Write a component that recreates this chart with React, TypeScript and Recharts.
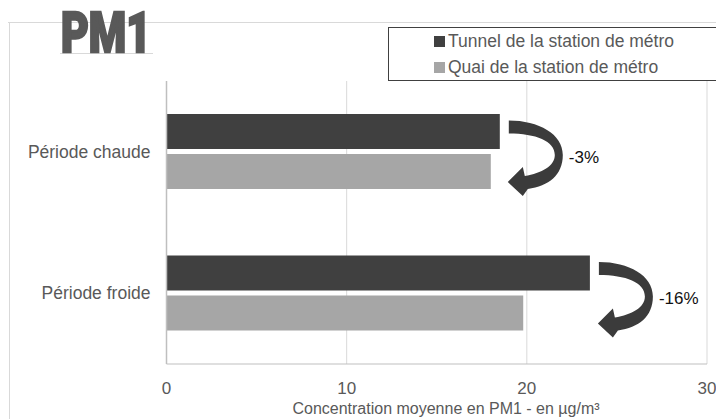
import React from 'react';
import { BarChart, Bar, XAxis, YAxis, CartesianGrid, Legend, LabelList, Customized } from 'recharts';

const categories = ['Période chaude', 'Période froide'];
const tunnelValues = [18.5, 23.5];
const quaiValues = [18.0, 19.8];
const changeLabels = ['-3%', '-16%'];
const seriesNames = ['Tunnel de la station de métro', 'Quai de la station de métro'];
const seriesColors = ['#404040', '#a6a6a6'];
const xTicks = [0, 10, 20, 30];
const chartTitle = 'PM1';
const xAxisTitle = 'Concentration moyenne en PM1 - en µg/m³';

const data = categories.map((c, i) => ({ name: c, tunnel: tunnelValues[i], quai: quaiValues[i] }));

const FONT = '"Liberation Sans", Arial, Helvetica, sans-serif';
const W = 716;
const H = 419;

const ArrowLabel = (props: any) => {
  const vb = props.viewBox || props;
  const x = Number(vb.x ?? props.x);
  const y = Number(vb.y ?? props.y);
  const width = Number(vb.width ?? props.width);
  const index = props.index ?? 0;
  const bx = x + width;
  const by = y;
  return (
    <g>
      <path
        transform={`translate(${bx},${by})`}
        d="M 9 6.5 C 39 6.5, 63 20, 63 41 C 63 61, 49 72, 28 75 L 23 82 L 8 68 L 23 53 L 25 62 C 42 59, 55 52, 55 41 C 55 27, 36 19.5, 9 19.5 Z"
        fill="#3b3b3b"
      />
      <text x={bx + 69} y={by + 43} dominantBaseline="central" fontFamily={FONT} fontSize={17} fill="#111">
        {changeLabels[index]}
      </text>
    </g>
  );
};

const LegendBox = () => (
  <div
    style={{
      position: 'relative',
      boxSizing: 'border-box',
      width: W - 388,
      height: 54,
      border: '1px solid #404040',
      borderRight: 'none',
      background: '#fff',
      fontFamily: FONT,
      fontSize: 17.5,
      color: '#595959',
    }}
  >
    {seriesNames.map((n, i) => (
      <div
        key={n}
        style={{
          position: 'absolute',
          left: 45,
          top: i * 26,
          height: 26,
          lineHeight: '26px',
          display: 'flex',
          alignItems: 'center',
          whiteSpace: 'nowrap',
        }}
      >
        <span style={{ display: 'inline-block', width: 11, height: 11, background: seriesColors[i], marginRight: 3 }} />
        <span>{n}</span>
      </div>
    ))}
  </div>
);

const Decorations = () => (
  <g>
    <line x1={8} y1={22.5} x2={W} y2={22.5} stroke="#d9d9d9" strokeWidth={1} />
    <line x1={9.5} y1={22} x2={9.5} y2={H} stroke="#d9d9d9" strokeWidth={1} />
    <line x1={60} y1={53.5} x2={153} y2={53.5} stroke="#d9d9d9" strokeWidth={1} />
    <text
      x={61}
      y={52}
      textLength={90}
      lengthAdjust="spacingAndGlyphs"
      fontFamily='Roboto, "Liberation Sans", Arial, sans-serif'
      fontWeight={900}
      fontSize={55}
      fill="#595959"
      stroke="#595959"
      strokeWidth={2.5}
      strokeLinejoin="miter"
    >
      {chartTitle}
    </text>
    <text x={446} y={414} textAnchor="middle" fontFamily={FONT} fontSize={16} fill="#595959">
      {xAxisTitle}
    </text>
  </g>
);

export default function App() {
  return (
    <div style={{ position: 'absolute', left: 0, top: 0, width: W, height: H, background: '#fff' }}>
      <BarChart
        width={W}
        height={H}
        data={data}
        layout="vertical"
        margin={{ top: 81, right: 9, bottom: 0, left: 0 }}
        barSize={35}
        barGap={5}
      >
        <Customized component={Decorations} />
        <CartesianGrid horizontal={false} vertical stroke="#d9d9d9" strokeWidth={1} />
        <XAxis
          type="number"
          domain={[0, 30]}
          ticks={xTicks}
          height={55}
          tickSize={0}
          tickLine={false}
          tickMargin={18}
          axisLine={{ stroke: '#bfbfbf', strokeWidth: 1 }}
          tick={{ fill: '#595959', fontSize: 17, fontFamily: FONT }}
          interval={0}
        />
        <YAxis
          type="category"
          dataKey="name"
          width={166.5}
          tickSize={0}
          tickLine={false}
          tickMargin={16}
          axisLine={{ stroke: '#bfbfbf', strokeWidth: 1.5 }}
          tick={{ fill: '#595959', fontSize: 17.5, fontFamily: FONT }}
        />
        <Legend
          layout="horizontal"
          verticalAlign="middle"
          align="center"
          wrapperStyle={{ left: 388, top: 27, width: W - 388, height: 54 }}
          content={<LegendBox />}
        />
        <Bar dataKey="tunnel" name={seriesNames[0]} fill={seriesColors[0]} isAnimationActive={false}>
          <LabelList dataKey="tunnel" content={<ArrowLabel />} />
        </Bar>
        <Bar dataKey="quai" name={seriesNames[1]} fill={seriesColors[1]} isAnimationActive={false} />
      </BarChart>
    </div>
  );
}
